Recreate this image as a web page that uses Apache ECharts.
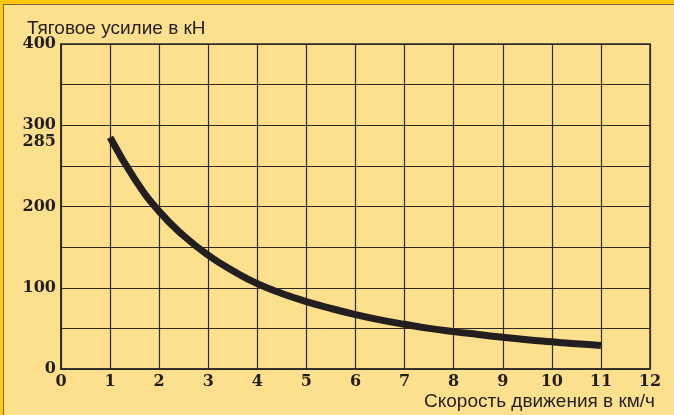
<!DOCTYPE html>
<html>
<head>
<meta charset="utf-8">
<script src="https://cdn.jsdelivr.net/npm/echarts@6/dist/echarts.min.js"></script>
<style>
    html, body { margin: 0; padding: 0; background: #fde08e; }
    #chartDiv { position: absolute; left: 0; top: 0; width: 674px; height: 415px; }
    #frame {
        position: absolute; left: 0; top: 0; width: 674px; height: 415px;
        box-sizing: border-box; pointer-events: none;
        border-top: 4px solid #ffc80c; border-left: 3px solid #ffc80c;
    }
    #frameInner {
        position: absolute; left: 3px; top: 4px; right: 0; bottom: 0;
        border-top: 1px solid #7d6a35; border-left: 1px solid #7d6a35;
        pointer-events: none;
    }
</style>
</head>
<body>
<div id="chartDiv"></div>
<div id="frame"></div>
<div id="frameInner"></div>
<script>
// speed in km/h and traction force in kN
const speeds = [1, 1.5, 2, 2.5, 3, 3.5, 4, 4.5, 5, 5.5, 6, 6.5, 7, 7.5, 8, 8.5, 9, 9.5, 10, 10.5, 11];
const forces = [285, 234, 194, 164, 140, 121, 105, 93, 83, 74.5, 67, 60.5, 55, 50, 46, 42.5, 39, 36, 33.5, 31, 29];

const yLabels = [0, 100, 200, 285, 300, 400];

const yTitle = 'Тяговое усилие в кН';
const xTitle = 'Скорость движения в км/ч';

const ink = '#231f20';
const tickFont = { fontFamily: 'DejaVu Serif', fontWeight: 'bold', fontSize: 16, color: ink };

function renderChart() {
    const myChart = echarts.init(document.getElementById('chartDiv'), null, { renderer: 'canvas' });

    const curve = speeds.map((s, i) => [s, forces[i]]);

    const option = {
        backgroundColor: '#fde08e',
        animation: false,
        title: [
            {
                text: yTitle, left: 22, top: 14,
                textStyle: { fontFamily: 'Liberation Sans', fontWeight: 'normal', fontSize: 19, color: ink }
            },
            {
                text: xTitle, right: 14, top: 387,
                textStyle: { fontFamily: 'Liberation Sans', fontWeight: 'normal', fontSize: 19, color: ink }
            }
        ],
        grid: {
            left: 61, right: 24, top: 44, bottom: 46,
            show: true, borderColor: '#2b2a28', borderWidth: 1.5
        },
        xAxis: {
            type: 'value', min: 0, max: 12, interval: 1,
            axisLine: { show: true, lineStyle: { color: '#2b2a28', width: 1.5 } },
            axisTick: { show: false },
            axisLabel: Object.assign({ margin: 5 }, tickFont),
            splitLine: { show: true, lineStyle: { color: '#2b2a28', width: 1.2 } }
        },
        yAxis: {
            type: 'value', min: 0, max: 400, interval: 50,
            axisLine: { show: true, lineStyle: { color: '#2b2a28', width: 1.5 } },
            axisTick: { show: false },
            axisLabel: Object.assign({
                margin: 5,
                customValues: yLabels,
                formatter: v => v === 285 ? '{low|285}' : String(v),
                rich: { low: Object.assign({ padding: [8, 0, 0, 0] }, tickFont) }
            }, tickFont),
            splitLine: { show: true, lineStyle: { color: '#2b2a28', width: 1.2 } }
        },
        series: [
            {
                type: 'line',
                data: curve,
                smooth: 0.5,
                symbol: 'none',
                lineStyle: { color: ink, width: 7, cap: 'butt' }
            }
        ]
    };

    myChart.setOption(option);
}

renderChart();
</script>
</body>
</html>
